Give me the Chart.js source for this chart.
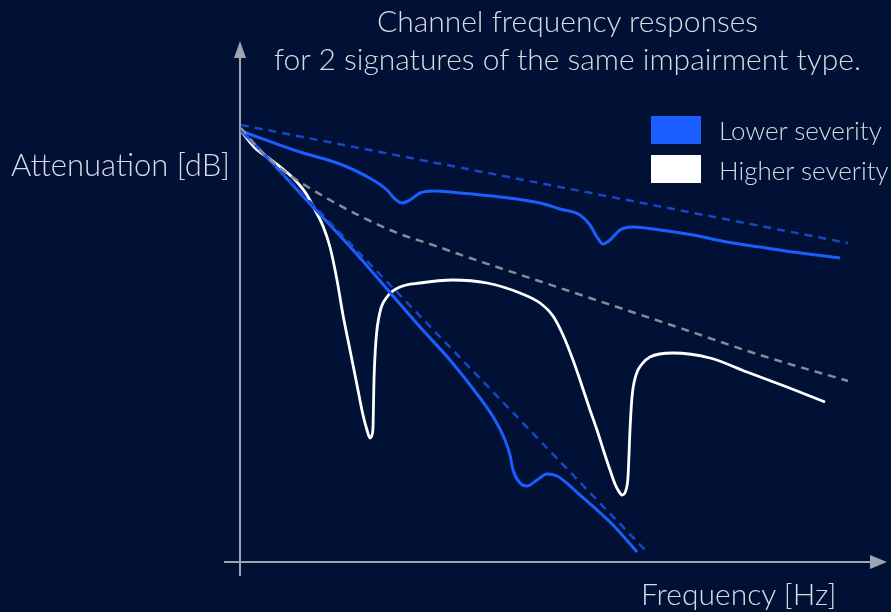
<!DOCTYPE html>
<html>
<head>
<meta charset="utf-8">
<script src="https://cdn.jsdelivr.net/npm/chart.js@4"></script>
<style>
  html, body { margin: 0; padding: 0; background: #001135; }
  #wrap { position: relative; width: 891px; height: 612px; overflow: hidden; }
  canvas { position: absolute; left: 0; top: 0; }
  .txt { position: absolute; color: #d8dbe2; font-family: Lato, "Open Sans", sans-serif; font-weight: 300; font-size: 26px; white-space: nowrap; line-height: 1; }
  .box { position: absolute; width: 50px; height: 28px; }
</style>
</head>
<body>
<div id="wrap">
  <canvas id="chart" width="891" height="612"></canvas>
  <div class="txt" id="title" style="left:240px; width:655px; top:1px; text-align:center; font-size:30px; line-height:38px;">Channel frequency responses<br>for 2 signatures of the same impairment type.</div>
  <div class="txt" style="left:11px; top:149px; font-size:31px;">Attenuation [dB]</div>
  <div class="txt" style="left:641px; top:578px; font-size:30px;">Frequency [Hz]</div>
  <div class="box" style="left:651px; top:116px; background:#1b5eff;"></div>
  <div class="box" style="left:651px; top:155px; background:#ffffff;"></div>
  <div class="txt" style="left:719px; top:117px;">Lower severity</div>
  <div class="txt" style="left:719px; top:157px;">Higher severity</div>
</div>
<script>
// frequency / attenuation in arbitrary units (no ticks on the original)
const upperTrendX = [1, 608];
const upperTrendY = [83, 201];

const upperBlueX = [1, 60, 100, 133, 147, 155, 162, 170, 180, 193, 220, 260, 300, 320, 340, 350, 357, 363, 370, 380, 393, 420, 453, 487, 520, 553, 600];
const upperBlueY = [89, 110, 122, 138, 148, 157, 161, 158, 151, 149, 151, 155, 161, 167, 173, 183, 195, 202, 198, 188, 185, 188, 193, 200, 205, 210, 216];

const lowerTrendX = [1, 408];
const lowerTrendY = [88, 511];

const lowerBlueX = [1, 20, 73, 113, 180, 210, 240, 255, 265, 270, 273, 280, 287, 297, 307, 317, 340, 373, 397];
const lowerBlueY = [89, 108, 165, 208, 285, 318, 356, 378, 398, 413, 428, 441, 444, 438, 432, 434, 453, 483, 510];

const grayX = [1, 20, 40, 60, 90, 120, 160, 190, 230, 290, 350, 440, 520, 608];
const grayY = [86, 108, 126, 140, 158, 174, 192, 202, 216, 236, 256, 286, 313, 339];

const whiteX = [1, 15, 30, 43, 57, 67, 75, 83, 90, 97, 103, 110, 117, 123, 127, 130, 132, 133, 134, 136, 140, 147, 160, 180, 213, 247, 280, 300, 313, 323, 333, 340, 350, 357, 364, 370, 375, 378, 382, 386, 388, 390, 392, 396, 402, 410, 433, 470, 507, 547, 585];
const whiteY = [89, 106, 117, 127, 140, 153, 168, 184, 205, 238, 273, 308, 343, 373, 388, 396, 393, 385, 338, 298, 270, 255, 245, 241, 238, 241, 251, 261, 274, 293, 318, 338, 368, 388, 410, 428, 442, 448, 453, 448, 435, 388, 355, 333, 322, 315, 311, 316, 330, 345, 360];

const BLUE = '#1b5eff';
const BLUE_DASH = '#1547c9';
const GRAY_DASH = '#858b97';
const WHITE = '#ffffff';
const AXIS = '#9ea4b0';

function pts(xs, ys) {
  return xs.map((x, i) => ({ x: x, y: ys[i] }));
}

function line(xs, ys, color, width, dash) {
  return {
    data: pts(xs, ys),
    borderColor: color,
    borderWidth: width,
    borderDash: dash || [],
    pointRadius: 0,
    fill: false,
    cubicInterpolationMode: 'monotone',
    borderCapStyle: 'butt'
  };
}

// axes with arrow heads, drawn from the chart area
const arrowAxes = {
  id: 'arrowAxes',
  beforeDatasetsDraw(chart) {
    const ctx = chart.ctx;
    const a = chart.chartArea;
    const x0 = chart.scales.x.getPixelForValue(0);
    const y0 = chart.scales.y.getPixelForValue(520);
    ctx.save();
    ctx.strokeStyle = AXIS;
    ctx.fillStyle = AXIS;
    ctx.lineWidth = 2;
    ctx.beginPath();
    ctx.moveTo(x0, y0 + 14);
    ctx.lineTo(x0, a.top + 14);
    ctx.moveTo(x0 - 16, y0);
    ctx.lineTo(a.right - 10, y0);
    ctx.stroke();
    ctx.beginPath();
    ctx.moveTo(x0, a.top - 1);
    ctx.lineTo(x0 - 6, a.top + 16);
    ctx.lineTo(x0 + 6, a.top + 16);
    ctx.closePath();
    ctx.fill();
    ctx.beginPath();
    ctx.moveTo(a.right + 7, y0);
    ctx.lineTo(a.right - 10, y0 - 7);
    ctx.lineTo(a.right - 10, y0 + 7);
    ctx.closePath();
    ctx.fill();
    ctx.restore();
  }
};

new Chart(document.getElementById('chart'), {
  type: 'line',
  data: {
    datasets: [
      line(grayX, grayY, GRAY_DASH, 2.5, [8, 6]),
      line(upperTrendX, upperTrendY, BLUE_DASH, 2.5, [8, 6]),
      line(lowerTrendX, lowerTrendY, BLUE_DASH, 2.5, [8, 6]),
      line(upperBlueX, upperBlueY, BLUE, 3),
      line(lowerBlueX, lowerBlueY, BLUE, 3),
      line(whiteX, whiteY, WHITE, 2.8)
    ]
  },
  options: {
    responsive: false,
    animation: false,
    layout: { padding: { left: 240, right: 11, top: 42, bottom: 50 } },
    plugins: { legend: { display: false }, title: { display: false }, tooltip: { enabled: false } },
    scales: {
      x: { type: 'linear', min: 0, max: 640, display: false },
      y: { type: 'linear', min: 0, max: 520, reverse: true, display: false }
    }
  },
  plugins: [arrowAxes]
});
</script>
</body>
</html>
